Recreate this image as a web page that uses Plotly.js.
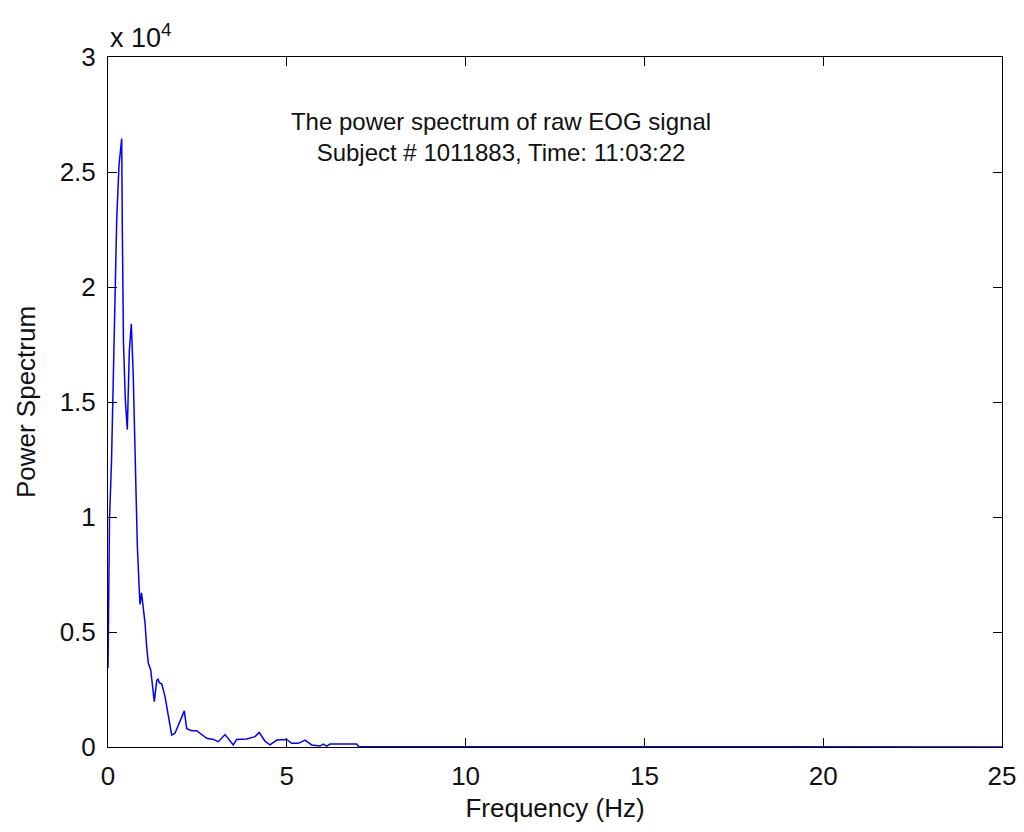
<!DOCTYPE html>
<html>
<head>
<meta charset="utf-8">
<script src="https://cdn.plot.ly/plotly-3.0.1.min.js"></script>
<style>
  html, body { margin: 0; padding: 0; background: #fff; }
  #eog_graph { width: 1024px; height: 832px; }
</style>
</head>
<body>
<div id="eog_graph"></div>
<script>
// frequency (Hz) and power
var freq_hz = [0, 0.014, 0.042, 0.098, 0.148, 0.196, 0.243, 0.308, 0.383, 0.400, 0.433,
    0.484, 0.540, 0.596, 0.652, 0.707, 0.769, 0.819, 0.867, 0.895, 0.937, 0.987,
    1.035, 1.082, 1.127, 1.194, 1.250, 1.295, 1.362, 1.400, 1.435, 1.502, 1.594,
    1.686, 1.781, 1.874, 2.013, 2.134, 2.201, 2.341, 2.480, 2.573, 2.665, 2.760,
    2.945, 3.084, 3.272, 3.504, 3.599, 3.879, 4.111, 4.231, 4.390, 4.530, 4.718,
    4.997, 5.137, 5.322, 5.509, 5.696, 5.928, 6.021, 6.116, 6.208, 6.955, 7.005,
    8, 10, 12, 15, 20, 25]
var power = [3430, 6100, 9900, 12400, 15650, 19650, 22900, 25300, 26450, 22600, 17600,
    15100, 13800, 17200, 18400, 16100, 11900, 8800, 7100, 6200, 6700, 6100,
    5400, 4350, 3650, 3350, 2500, 1970, 2900, 2950, 2800, 2750, 2200,
    1300, 520, 600, 1100, 1570, 800, 710, 710, 600, 520, 380,
    330, 230, 540, 90, 330, 350, 450, 630, 250, 90, 300,
    330, 160, 160, 300, 90, 40, 130, 40, 130, 130, 20,
    15, 10, 10, 8, 6, 5]

var x_ticks = [0, 5, 10, 15, 20, 25]
var y_ticks = [0, 5000, 10000, 15000, 20000, 25000, 30000]
var y_tick_labels = ['0', '0.5', '1', '1.5', '2', '2.5', '3']

var font_name = 'Liberation Sans, Arial, sans-serif'

var data = [{
    x: freq_hz,
    y: power,
    type: 'scatter',
    mode: 'lines',
    line: { color: '#0000ff', width: 1.5 },
    hoverinfo: 'skip'
}]

var axis_common = {
    showline: true,
    linecolor: '#000',
    linewidth: 1,
    mirror: 'ticks',
    ticks: 'inside',
    ticklen: 9,
    tickcolor: '#000',
    showgrid: false,
    zeroline: false,
    tickfont: { family: font_name, size: 26, color: '#111' }
}

var layout = {
    width: 1024,
    height: 832,
    margin: { l: 108, r: 22, t: 57, b: 85 },
    paper_bgcolor: '#fff',
    plot_bgcolor: '#fff',
    showlegend: false,
    font: { family: font_name, color: '#111' },
    title: {
        text: 'The power spectrum of raw EOG signal<br>Subject # 1011883, Time: 11:03:22',
        x: 501 / 1024, xref: 'container', xanchor: 'center',
        y: 1 - 130 / 832, yref: 'container', yanchor: 'middle',
        font: { family: font_name, size: 24, color: '#111' }
    },
    xaxis: Object.assign({}, axis_common, {
        range: [0, 25],
        tickvals: x_ticks,
        ticklabelstandoff: 6,
        title: { text: 'Frequency (Hz)', font: { family: font_name, size: 26, color: '#111' }, standoff: 8 }
    }),
    yaxis: Object.assign({}, axis_common, {
        range: [0, 30000],
        tickvals: y_ticks,
        ticktext: y_tick_labels,
        ticklabelstandoff: 6,
        title: { text: 'Power Spectrum', font: { family: font_name, size: 26, color: '#111' }, standoff: 16 }
    }),
    annotations: [{
        text: 'x 10<sup>4</sup>',
        xref: 'paper', yref: 'paper',
        x: 0, y: 1, xanchor: 'left', yanchor: 'bottom',
        yshift: 2,
        showarrow: false,
        font: { family: font_name, size: 27, color: '#111' }
    }]
}

Plotly.newPlot('eog_graph', data, layout, { displayModeBar: false, staticPlot: true })
</script>
</body>
</html>
